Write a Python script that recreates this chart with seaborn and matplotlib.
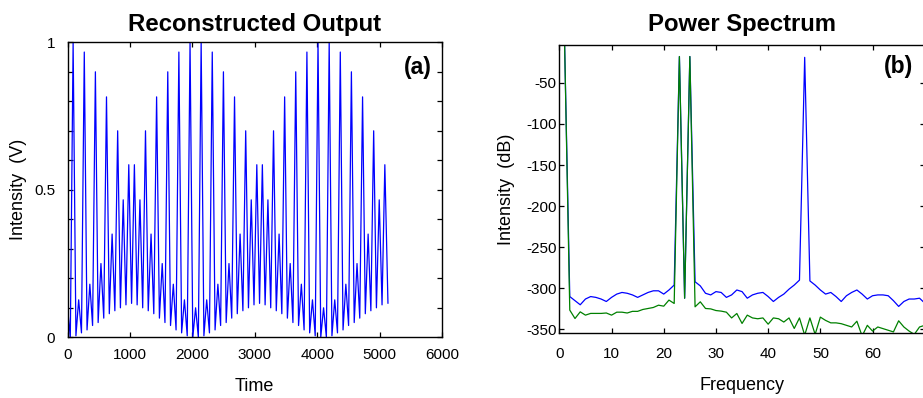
import matplotlib
matplotlib.use("Agg")
import matplotlib.pyplot as plt
import numpy as np
import pandas as pd
import seaborn as sns
from matplotlib.ticker import FixedLocator, FuncFormatter

# ---------------- Panel (a): reconstructed output (peaks and troughs) -------------
peak_time = [0, 89, 178, 268, 357, 446, 535, 624, 714, 803,
             892, 981, 1071, 1160, 1249, 1338, 1427, 1517, 1606, 1695,
             1784, 1873, 1963, 2052, 2141, 2230, 2319, 2409, 2498, 2587,
             2676, 2765, 2855, 2944, 3033, 3122, 3211, 3301, 3390, 3479,
             3568, 3657, 3747, 3836, 3925, 4014, 4103, 4193, 4282, 4371,
             4460, 4549, 4639, 4728, 4817, 4906, 4995, 5085]
peak_value = [0.10, 1.0, 0.127, 0.967, 0.18, 0.90, 0.25, 0.815, 0.35, 0.70, 0.466,
              0.585, 0.585, 0.466, 0.70, 0.35, 0.815, 0.25, 0.90, 0.18, 0.967, 0.127, 1.0,
              0.10,
              1.0, 0.127, 0.967, 0.18, 0.90, 0.25, 0.815, 0.35, 0.70, 0.466,
              0.585, 0.585, 0.466, 0.70, 0.35, 0.815, 0.25, 0.90, 0.18, 0.967, 0.127, 1.0,
              0.10,
              1.0, 0.127, 0.967, 0.18, 0.90, 0.25, 0.815, 0.35, 0.70, 0.466, 0.585]
trough_time = [44, 134, 223, 312, 401, 490, 580, 669, 758, 847,
               936, 1026, 1115, 1204, 1293, 1382, 1472, 1561, 1650, 1739,
               1828, 1918, 2007, 2096, 2185, 2274, 2364, 2453, 2542, 2631,
               2720, 2810, 2899, 2988, 3077, 3166, 3256, 3345, 3434, 3523,
               3612, 3702, 3791, 3880, 3969, 4058, 4148, 4237, 4326, 4415,
               4504, 4594, 4683, 4772, 4861, 4950, 5040, 5135]
trough_value = [0.0, 0.005, 0.015, 0.025, 0.04, 0.05, 0.065, 0.08, 0.09, 0.10, 0.11, 0.115,
                0.11, 0.10, 0.09, 0.08, 0.065, 0.05, 0.04, 0.025, 0.015, 0.005, 0.0,
                0.0, 0.005, 0.015, 0.025, 0.04, 0.05, 0.065, 0.08, 0.09, 0.10, 0.11, 0.115,
                0.11, 0.10, 0.09, 0.08, 0.065, 0.05, 0.04, 0.025, 0.015, 0.005, 0.0,
                0.0, 0.005, 0.015, 0.025, 0.04, 0.05, 0.065, 0.08, 0.09, 0.10, 0.11, 0.115]

# ---------------- Panel (b): power spectrum -------------
freq = list(range(1, 72))
spec_blue = [0, -310, -315, -320, -313, -310, -311, -313, -316, -311,
             -307, -305, -306, -308, -311, -308, -305, -303, -303, -307,
             -302, -296, -18, -312, -18, -292, -297, -306, -308, -304,
             -305, -311, -308, -302, -304, -312, -308, -306, -305, -310,
             -316, -311, -307, -301, -296, -290, -19, -291, -296, -302,
             -307, -305, -310, -316, -309, -305, -302, -307, -313, -309,
             -308, -308, -309, -315, -322, -316, -313, -313, -312, -318, -315]
spec_green = [0, -326.5, -336.7, -328.6, -332.6, -330.5, -330.5, -330.5, -330, -332.6,
              -329, -329, -330, -328, -328, -325.7, -324.5, -323.3, -320.5, -321.7,
              -314.3, -318.4, -18, -312, -18, -322.5, -316.4, -324.5, -325, -327,
              -327.7, -329, -336, -330.6, -342.7, -332.6, -336, -337, -336, -343.6,
              -336, -337, -341, -336, -348.8, -336, -357, -336, -356, -335,
              -339, -342, -342, -343, -345, -347, -340, -358, -345, -352,
              -347, -349, -351, -353, -339.5, -347, -352, -356, -347, -345, -350]

left_xticks = [0, 1000, 2000, 3000, 4000, 5000, 6000]
left_yticks = [0, 0.1, 0.2, 0.3, 0.4, 0.5, 0.6, 0.7, 0.8, 0.9, 1.0]
left_ylabels_shown = {0.0: "0", 0.5: "0.5", 1.0: "1"}
right_xticks = [0, 10, 20, 30, 40, 50, 60, 70]
right_xlabels_shown = {0: "0", 10: "10", 20: "20", 30: "30", 40: "40", 50: "50", 60: "60"}
right_yticks = [-350, -300, -250, -200, -150, -100, -50]

# ---------------- style -------------
sns.set_theme(style="ticks")
plt.rcParams["font.family"] = ["Liberation Sans", "DejaVu Sans"]
plt.rcParams.update({
    "axes.unicode_minus": False,
    "xtick.direction": "in", "ytick.direction": "in",
    "xtick.top": True, "ytick.right": True,
    "xtick.major.size": 3.5, "ytick.major.size": 3.5,
    "xtick.major.width": 0.9, "ytick.major.width": 0.9,
    "axes.edgecolor": "black", "axes.linewidth": 1.0,
    "xtick.color": "black", "ytick.color": "black",
    "xtick.labelsize": 11, "ytick.labelsize": 11,
    "text.color": "black", "axes.labelcolor": "black",
})

fig = plt.figure(figsize=(9.23, 3.98), dpi=100)
ax1 = fig.add_axes([0.0732, 0.1525, 0.4056, 0.7412])
ax2 = fig.add_axes([0.606, 0.164, 0.3959, 0.7229])

# panel (a)
df_a = pd.DataFrame({"Time": peak_time + trough_time,
                     "Intensity": peak_value + trough_value}).sort_values("Time")
sns.lineplot(data=df_a, x="Time", y="Intensity", ax=ax1, color="#0000ff",
             linewidth=0.9, estimator=None, sort=False)
ax1.set_xlim(0, 6000)
ax1.set_ylim(0, 1)
ax1.xaxis.set_major_locator(FixedLocator(left_xticks))
ax1.yaxis.set_major_locator(FixedLocator(left_yticks))
ax1.yaxis.set_major_formatter(FuncFormatter(
    lambda v, p: left_ylabels_shown.get(round(v, 2), "")))
ax1.tick_params(axis="x", pad=8)
ax1.tick_params(axis="y", pad=9)
ax1.set_xlabel("Time", fontsize=13, labelpad=11)
ax1.set_ylabel("Intensity  (V)", fontsize=13, labelpad=5)
ax1.set_title("Reconstructed Output", fontsize=17.3, fontweight="bold", pad=8)
ax1.text(0.935, 0.915, "(a)", transform=ax1.transAxes, ha="center", va="center",
         fontsize=16.5, fontweight="bold")

# panel (b)
df_b = pd.DataFrame({
    "Frequency": freq + freq,
    "Intensity": spec_blue + spec_green,
    "series": ["blue"] * len(freq) + ["green"] * len(freq),
})
sns.lineplot(data=df_b, x="Frequency", y="Intensity", hue="series",
             hue_order=["blue", "green"],
             palette={"blue": "#0000ff", "green": "#008000"},
             ax=ax2, linewidth=0.9, estimator=None, sort=False, legend=False)
ax2.set_xlim(0, 70)
ax2.set_ylim(-354, -4)
ax2.xaxis.set_major_locator(FixedLocator(right_xticks))
ax2.xaxis.set_major_formatter(FuncFormatter(
    lambda v, p: right_xlabels_shown.get(int(round(v)), "")))
ax2.yaxis.set_major_locator(FixedLocator(right_yticks))
ax2.tick_params(axis="x", pad=10)
ax2.tick_params(axis="y", pad=2)
ax2.set_xlabel("Frequency", fontsize=13, labelpad=12)
ax2.set_ylabel("Intensity  (dB)", fontsize=13, labelpad=8)
ax2.set_title("Power Spectrum", fontsize=17.2, fontweight="bold", pad=10)
ax2.text(0.927, 0.927, "(b)", transform=ax2.transAxes, ha="center", va="center",
         fontsize=16.5, fontweight="bold")

fig.savefig("out.png", dpi=100)
